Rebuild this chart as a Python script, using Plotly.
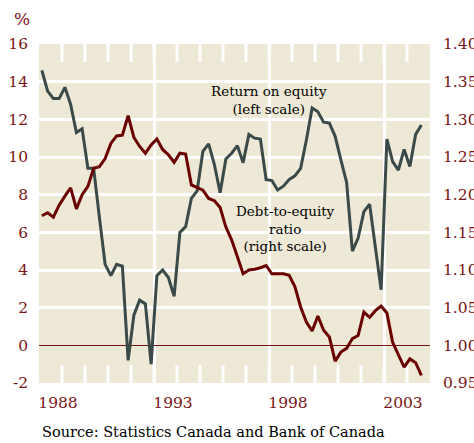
import plotly.graph_objects as go

# Quarterly data, 1988Q1 .. 2004Q3
start_year = 1988
roe = [14.6, 13.5, 13.1, 13.1, 13.7, 12.8, 11.3, 11.5, 9.4, 9.4,
       6.8, 4.3, 3.7, 4.3, 4.2, -0.8, 1.6, 2.4, 2.2, -1.0,
       3.7, 4.0, 3.6, 2.6, 6.0, 6.3, 7.8, 8.2, 10.3, 10.7,
       9.6, 8.1, 9.9, 10.2, 10.6, 9.7, 11.2, 11.0, 10.95, 8.8,
       8.75, 8.25, 8.45, 8.8, 9.0, 9.4, 10.9, 12.6, 12.4, 11.85,
       11.8, 11.1, 9.85, 8.65, 5.0, 5.7, 7.1, 7.5, 5.2, 2.95,
       10.95, 9.75, 9.3, 10.4, 9.5, 11.2, 11.7]
debt_equity = [1.172, 1.176, 1.170, 1.186, 1.198, 1.209, 1.181, 1.200, 1.211, 1.235,
               1.237, 1.248, 1.268, 1.278, 1.279, 1.305, 1.276, 1.264, 1.255, 1.266,
               1.274, 1.260, 1.253, 1.243, 1.255, 1.254, 1.213, 1.209, 1.206, 1.195,
               1.192, 1.183, 1.157, 1.140, 1.118, 1.095, 1.100, 1.101, 1.103, 1.106,
               1.095, 1.095, 1.095, 1.093, 1.078, 1.051, 1.031, 1.019, 1.039, 1.020,
               1.011, 0.979, 0.991, 0.996, 1.009, 1.013, 1.044, 1.037, 1.046, 1.052,
               1.043, 1.004, 0.987, 0.971, 0.982, 0.977, 0.960]
year_ticks = [1988, 1993, 1998, 2003]
year_labels = ["1988", "1993", "1998", "2003"]
left_ticks = list(range(-2, 17, 2))
left_labels = [str(v) for v in left_ticks]
right_ticks = [0.95, 1.00, 1.05, 1.10, 1.15, 1.20, 1.25, 1.30, 1.35, 1.40]
all_years = list(range(1989, 2005))

# mid-quarter positions in decimal years
x = [start_year + (i + 0.5) / 4 for i in range(len(roe))]

BG = "#EEE8D6"
RED = "#6B0000"
LBL = "#7B1416"
GRAY = "#3A4A48"
FONT = "DejaVu Serif"
TICK_FRAC = 18 / 338.6
TS = 15.5

fig = go.Figure()
fig.add_trace(go.Scatter(x=x, y=roe, mode="lines", line=dict(color=GRAY, width=3),
                         showlegend=False, yaxis="y"))
fig.add_trace(go.Scatter(x=x, y=debt_equity, mode="lines", line=dict(color=RED, width=3),
                         showlegend=False, yaxis="y2"))

# white year tick marks along top and bottom edges
shapes = []
for yr in all_years:
    for y0, y1 in [(0, TICK_FRAC), (1 - TICK_FRAC, 1)]:
        shapes.append(dict(type="line", xref="x", yref="y domain", x0=yr, x1=yr,
                           y0=y0, y1=y1, line=dict(color="white", width=3),
                           layer="below"))

fig.update_layout(
    width=474, height=443,
    margin=dict(l=39, r=44, t=44, b=60, autoexpand=False),
    paper_bgcolor="white", plot_bgcolor=BG,
    font=dict(family=FONT, color=LBL, size=TS),
    shapes=shapes,
    xaxis=dict(range=[1988, 2005], tickvals=year_ticks, ticktext=year_labels,
               showgrid=True, gridcolor="white", gridwidth=3, automargin=False,
               ticks="", ticklabelshift=19, ticklabelstandoff=8,
               zeroline=False, showline=False,
               tickfont=dict(family=FONT, size=TS, color=LBL)),
    yaxis=dict(range=[-2, 16], tickvals=left_ticks, ticktext=left_labels,
               showgrid=True, automargin=False,
               gridcolor="white", gridwidth=3, zeroline=True, zerolinecolor=LBL,
               zerolinewidth=1, ticks="", ticklabelstandoff=10,
               tickfont=dict(family=FONT, size=TS, color=LBL)),
    yaxis2=dict(range=[0.95, 1.40], tickvals=right_ticks, tickformat=".2f",
                overlaying="y", side="right", showgrid=False, zeroline=False,
                ticks="", ticklabelstandoff=12, automargin=False,
                tickfont=dict(family=FONT, size=TS, color=LBL)),
    annotations=[
        dict(text="%", xref="paper", yref="paper", x=-0.068, y=1.073,
             xanchor="left", yanchor="middle", showarrow=False,
             font=dict(family=FONT, size=17, color=LBL)),
        dict(text="Source: Statistics Canada and Bank of Canada", xref="paper", yref="paper",
             x=0.003, y=-0.146, xanchor="left", yanchor="middle", showarrow=False,
             font=dict(family=FONT, size=14.5, color="black")),
        dict(text="Return on equity<br>(left scale)", xref="x", yref="y",
             x=1998.0, y=13.05, showarrow=False, align="center",
             font=dict(family=FONT, size=13.5, color="black")),
        dict(text="Debt-to-equity<br>ratio<br>(right scale)", xref="x", yref="y",
             x=1998.7, y=6.2, showarrow=False, align="center",
             font=dict(family=FONT, size=13.5, color="black")),
    ],
)

fig.write_html("out.html", config={"displayModeBar": False},
               post_script="document.body.style.margin='0';")
